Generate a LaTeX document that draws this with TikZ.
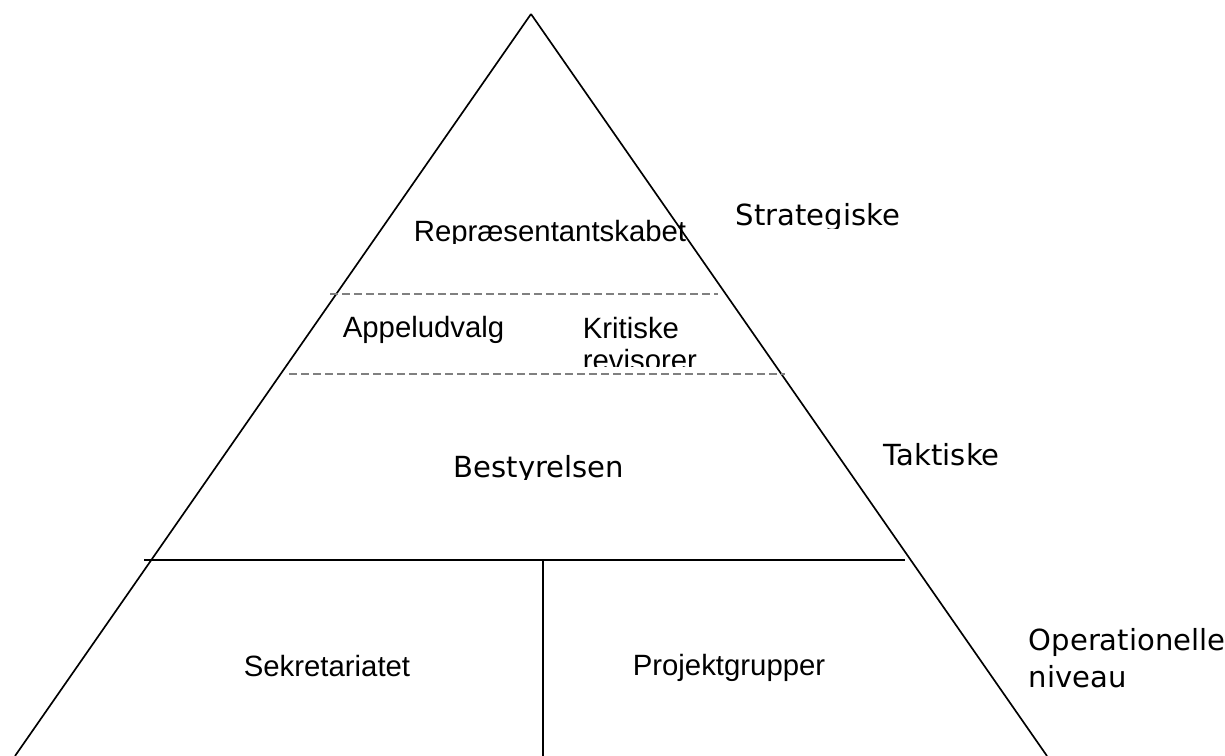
\documentclass[tikz,border=0pt]{standalone}
\usepackage{fontspec}
\setmainfont{Liberation Sans}
\newfontfamily\verd{DejaVu Sans}

\begin{document}
\begin{tikzpicture}[x=0.75pt, y=-0.75pt,
    line width=1.25pt,
    unit/.style={anchor=base west, inner sep=0pt, font=\fontsize{22}{24}\selectfont},
    level/.style={anchor=base west, inner sep=0pt, font=\verd\fontsize{21.8}{24}\selectfont},
    subdiv/.style={gray, line width=0.8pt, dash pattern=on 6pt off 3pt}]
    \useasboundingbox (0,0) rectangle (1225,756);

    % pyramid
    \coordinate (top) at (531,14);
    \coordinate (bl) at (15,756);
    \coordinate (br) at (1047,756);
    \draw (top) -- (bl);
    \draw (top) -- (br);

    \coordinate (hl) at (144,560);
    \coordinate (hr) at (905,560);
    \draw (hl) -- (hr);

    \coordinate (vt) at (543,560);
    \coordinate (vb) at (543,756);
    \draw (vt) -- (vb);

    \coordinate (d1l) at (330,294);
    \coordinate (d1r) at (718,294);
    \draw[subdiv] (d1l) -- (d1r);

    \coordinate (d2l) at (289,374);
    \coordinate (d2r) at (785,374);
    \draw[subdiv] (d2l) -- (d2r);

    % labels inside
    \begin{scope}
        \clip (0,0) rectangle (1225,244);
        \node[unit] (repr) at (413,242) {Repræsentantskabet};
    \end{scope}
    \node[unit] (appel) at (342,337) {Appeludvalg};
    \begin{scope}
        \clip (0,300) rectangle (1225,366);
        \node[unit] (krit) at (582,338) {Kritiske};
        \node[unit] (revis) at (582,370) {revisorer};
    \end{scope}
    \begin{scope}
        \clip (0,400) rectangle (1225,479);
        \node[level] (best) at (453,477) {Bestyrelsen};
    \end{scope}
    \node[unit] (sekr) at (243,676) {Sekretariatet};
    \node[unit] (proj) at (632,675) {Projektgrupper};

    % levels
    \begin{scope}
        \clip (0,150) rectangle (1225,229);
        \node[level] (strat) at (735,225) {Strategiske};
    \end{scope}
    \node[level] (takt) at (883,465) {Taktiske};
    \node[level] (oper) at (1028,650) {Operationelle};
    \node[level] (niv) at (1028,687) {niveau};
\end{tikzpicture}
\end{document}
